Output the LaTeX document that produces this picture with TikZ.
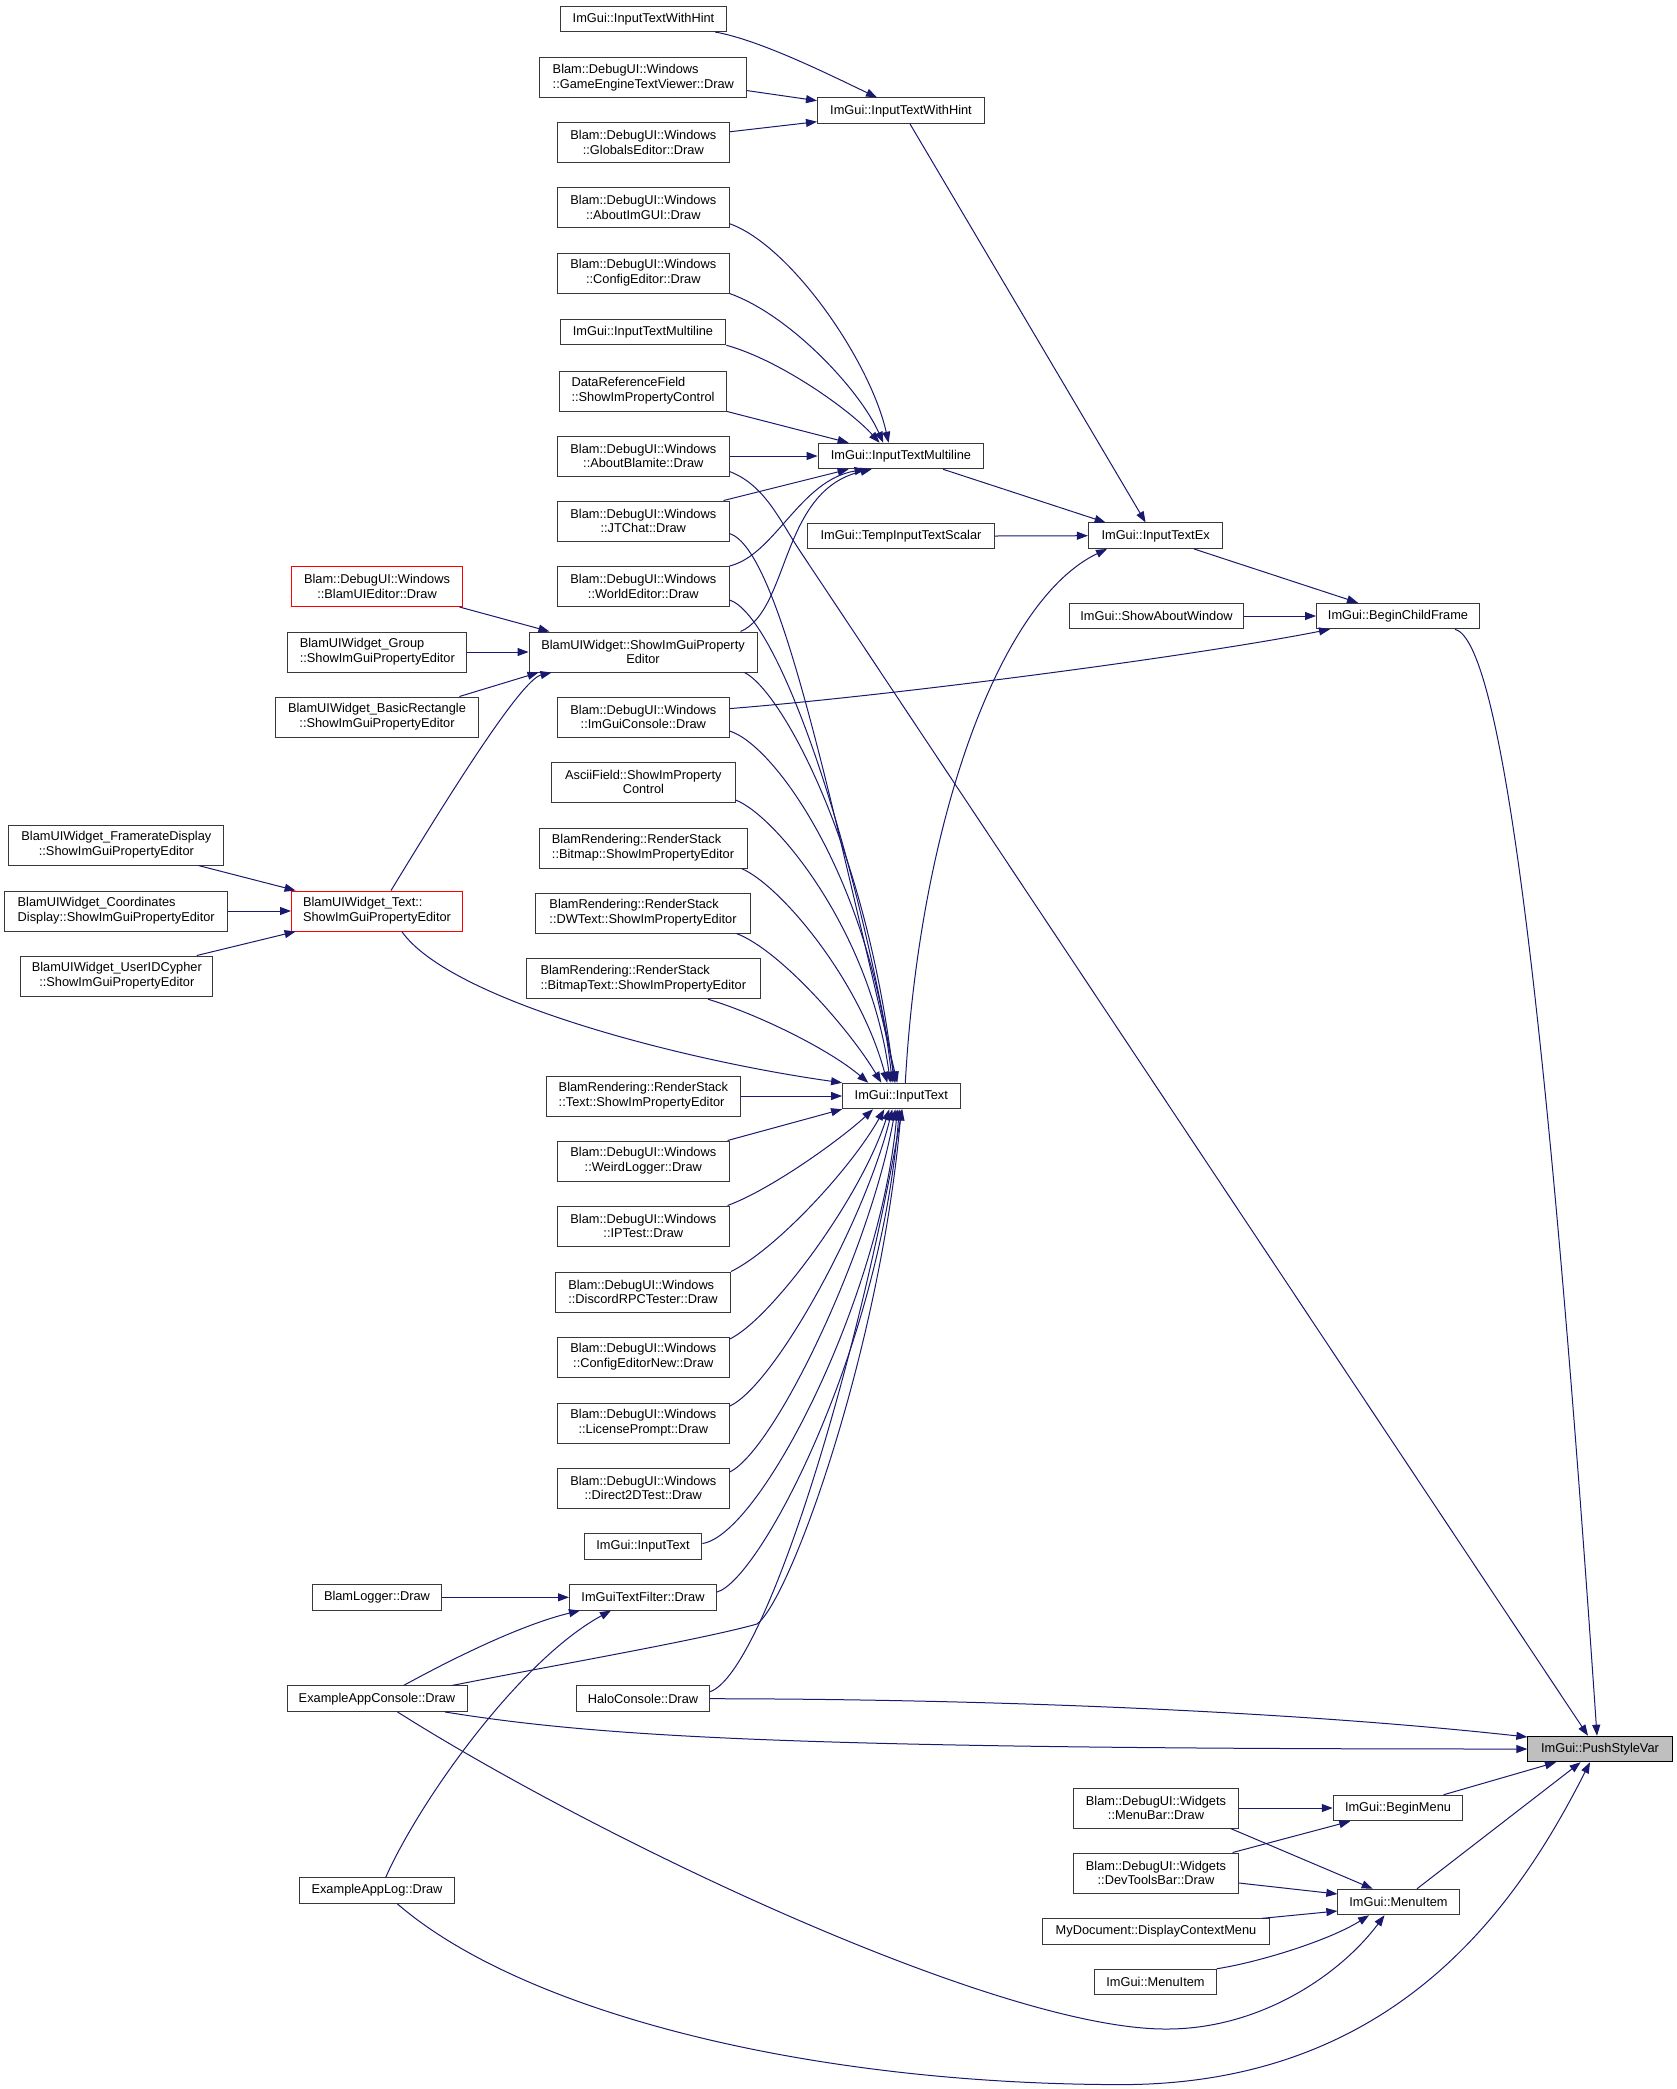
\documentclass[tikz,border=0pt]{standalone}
\usepackage{fontspec}
\setmainfont{Liberation Sans}
\usetikzlibrary{arrows.meta}
\definecolor{edgecol}{RGB}{25,25,112}
\definecolor{boxgray}{RGB}{191,191,191}
\newcommand\nfnt{\fontsize{12.8pt}{14.8pt}\selectfont}
\begin{document}
\begin{tikzpicture}[x=1pt,y=-1pt,
  box/.style={draw=black!78, line width=1pt, fill=white, inner sep=0pt, minimum height=25.5pt, font=\nfnt, text=black},
  boxtwo/.style={box, minimum height=40pt},
  redbox/.style={boxtwo, draw=red},
  edge/.style={draw=edgecol, line width=1pt, -{Triangle[length=11pt,width=8pt]}}]
\fill[white] (0,0) rectangle (1677,2089);
\useasboundingbox (0,0) rectangle (1677,2089);

% ---- nodes ----
\node[box, minimum width=166.5pt] (hintL) at (643.5,18.8) {ImGui::InputTextWithHint};
\node[boxtwo, minimum width=206.7pt, align=left] (gev) at (643.3,77.4) {Blam::DebugUI::Windows\\::GameEngineTextViewer::Draw};
\node[boxtwo, minimum width=171.5pt, align=center] (glob) at (643.3,142.6) {Blam::DebugUI::Windows\\::GlobalsEditor::Draw};
\node[box, minimum width=167pt] (hintR) at (901,110.7) {ImGui::InputTextWithHint};
\node[boxtwo, minimum width=171.5pt, align=center] (aboutimgui) at (643.3,207.7) {Blam::DebugUI::Windows\\::AboutImGUI::Draw};
\node[boxtwo, minimum width=171.5pt, align=center] (configed) at (643.3,273) {Blam::DebugUI::Windows\\::ConfigEditor::Draw};
\node[box, minimum width=165.7pt] (mlL) at (643,332) {ImGui::InputTextMultiline};
\node[boxtwo, minimum width=167.3pt, align=left] (dataref) at (643,391) {DataReferenceField\\::ShowImPropertyControl};
\node[boxtwo, minimum width=171.5pt, align=center] (aboutblam) at (643.3,456) {Blam::DebugUI::Windows\\::AboutBlamite::Draw};
\node[box, minimum width=165.8pt] (mlR) at (901,456) {ImGui::InputTextMultiline};
\node[boxtwo, minimum width=171.5pt, align=center] (jtchat) at (643.3,521) {Blam::DebugUI::Windows\\::JTChat::Draw};
\node[box, minimum width=186.7pt] (temp) at (901,536) {ImGui::TempInputTextScalar};
\node[box, minimum width=134.4pt] (itex) at (1155.6,535.7) {ImGui::InputTextEx};
\node[boxtwo, minimum width=171.5pt, align=center] (world) at (643.3,586.5) {Blam::DebugUI::Windows\\::WorldEditor::Draw};
\node[box, minimum width=174.5pt] (about) at (1156.5,616) {ImGui::ShowAboutWindow};
\node[box, minimum width=163pt] (bcf) at (1398,616) {ImGui::BeginChildFrame};
\node[boxtwo, minimum width=228pt, align=center] (bwsp) at (643,652) {BlamUIWidget::ShowImGuiProperty\\Editor};
\node[boxtwo, minimum width=171.5pt, align=center] (console) at (643.3,717) {Blam::DebugUI::Windows\\::ImGuiConsole::Draw};
\node[boxtwo, minimum width=183.3pt, align=center] (ascii) at (643.4,782) {AsciiField::ShowImProperty\\Control};
\node[boxtwo, minimum width=208pt, align=left] (bitmap) at (643,848) {BlamRendering::RenderStack\\::Bitmap::ShowImPropertyEditor};
\node[boxtwo, minimum width=215.5pt, align=left] (dwtext) at (643,913) {BlamRendering::RenderStack\\::DWText::ShowImPropertyEditor};
\node[boxtwo, minimum width=233.5pt, align=left] (bmtext) at (643.3,978.7) {BlamRendering::RenderStack\\::BitmapText::ShowImPropertyEditor};
\node[redbox, minimum width=171pt, align=center] (blamuied) at (377,586.5) {Blam::DebugUI::Windows\\::BlamUIEditor::Draw};
\node[boxtwo, minimum width=179pt, align=left] (group) at (377.3,652) {BlamUIWidget\_Group\\::ShowImGuiPropertyEditor};
\node[boxtwo, minimum width=203pt, align=center] (basicrect) at (377,717) {BlamUIWidget\_BasicRectangle\\::ShowImGuiPropertyEditor};
\node[boxtwo, minimum width=215pt, align=center] (framerate) at (116.4,845) {BlamUIWidget\_FramerateDisplay\\::ShowImGuiPropertyEditor};
\node[boxtwo, minimum width=223.2pt, align=left] (coords) at (116.2,911) {BlamUIWidget\_Coordinates\\Display::ShowImGuiPropertyEditor};
\node[redbox, minimum width=171pt, align=left] (wtext) at (377,911) {BlamUIWidget\_Text::\\ShowImGuiPropertyEditor};
\node[boxtwo, minimum width=192pt, align=center] (userid) at (116.8,976) {BlamUIWidget\_UserIDCypher\\::ShowImGuiPropertyEditor};
\node[box, minimum width=117.4pt] (it) at (901.3,1096) {ImGui::InputText};
\node[boxtwo, minimum width=194pt, align=left] (rstext) at (643.4,1096) {BlamRendering::RenderStack\\::Text::ShowImPropertyEditor};
\node[boxtwo, minimum width=171.5pt, align=center] (weird) at (643.3,1161) {Blam::DebugUI::Windows\\::WeirdLogger::Draw};
\node[boxtwo, minimum width=171.5pt, align=center] (iptest) at (643.3,1226) {Blam::DebugUI::Windows\\::IPTest::Draw};
\node[boxtwo, minimum width=175pt, align=left] (discord) at (643,1292) {Blam::DebugUI::Windows\\::DiscordRPCTester::Draw};
\node[boxtwo, minimum width=171.5pt, align=center] (cfgnew) at (643.3,1357) {Blam::DebugUI::Windows\\::ConfigEditorNew::Draw};
\node[boxtwo, minimum width=171.5pt, align=center] (license) at (643.3,1423) {Blam::DebugUI::Windows\\::LicensePrompt::Draw};
\node[boxtwo, minimum width=171.5pt, align=center] (d2d) at (643.3,1488) {Blam::DebugUI::Windows\\::Direct2DTest::Draw};
\node[box, minimum width=117.7pt] (itsmall) at (643,1546.5) {ImGui::InputText};
\node[box, minimum width=128.8pt] (logger) at (377,1597.3) {BlamLogger::Draw};
\node[box, minimum width=147pt] (filter) at (643,1597.3) {ImGuiTextFilter::Draw};
\node[box, minimum width=180pt] (appcon) at (377,1698.7) {ExampleAppConsole::Draw};
\node[box, minimum width=132.8pt] (halo) at (643,1698.7) {HaloConsole::Draw};
\node[box, minimum width=155.5pt] (applog) at (377,1890.6) {ExampleAppLog::Draw};
\node[box, minimum width=144.3pt, fill=boxgray, draw=black] (psv) at (1600,1749) {ImGui::PushStyleVar};
\node[box, minimum width=129.5pt] (beginmenu) at (1398,1808) {ImGui::BeginMenu};
\node[boxtwo, minimum width=165pt, align=center] (menubar) at (1156,1808) {Blam::DebugUI::Widgets\\::MenuBar::Draw};
\node[boxtwo, minimum width=165pt, align=center] (devtools) at (1156,1873) {Blam::DebugUI::Widgets\\::DevToolsBar::Draw};
\node[box, minimum width=121.3pt] (menuitem) at (1398.5,1902) {ImGui::MenuItem};
\node[box, minimum width=226.6pt] (mydoc) at (1156,1931.6) {MyDocument::DisplayContextMenu};
\node[box, minimum width=121.5pt] (menuitem2) at (1155.5,1982) {ImGui::MenuItem};

% ---- edges ----
\draw[edge] ([xshift=-12pt]hintL.south east) .. controls (760,40) and (830,75) .. ([xshift=60pt]hintR.north west);
\draw[edge] ([yshift=-13.2pt]gev.east) -- ([yshift=10pt]hintR.west);
\draw[edge] ([yshift=10.8pt]glob.east) -- ([yshift=-11pt]hintR.west);
\draw[edge] ([xshift=9pt]hintR.south) -- ([xshift=-10pt]itex.north);
\draw[edge] ([yshift=-16pt]aboutimgui.east) .. controls (790,245) and (870,360) .. ([xshift=71pt]mlR.north west);
\draw[edge] (configed.south east) .. controls (790,315) and (860,390) .. ([xshift=65.6pt]mlR.north west);
\draw[edge] (mlL.south east) .. controls (780,360) and (850,410) .. ([xshift=62pt]mlR.north west);
\draw[edge] (dataref.south east) -- ([xshift=31pt]mlR.north west);
\draw[edge] (aboutblam.east) -- (mlR.west);
\draw[edge] ([xshift=-6pt]jtchat.north east) -- ([xshift=31pt]mlR.south west);
\draw[edge] (world.north east) .. controls (775,555) and (800,480) .. ([xshift=48pt]mlR.south west);
\draw[edge] ([xshift=-17pt]bwsp.north east) .. controls (790,610) and (780,490) .. ([xshift=54pt]mlR.south west);
\draw[edge] ([xshift=42pt]mlR.south) -- ([xshift=-50pt]itex.north);
\draw[edge] (temp.east) -- (itex.west);
\draw[edge] ([xshift=4pt]it.north) .. controls (920,820) and (1000,600) .. ([xshift=-48.6pt]itex.south);
\draw[edge] ([xshift=38.4pt]itex.south) -- ([xshift=-40pt]bcf.north);
\draw[edge] (about.east) -- (bcf.west);
\draw[edge] ([yshift=8.4pt]console.east) .. controls (900,695) and (1200,655) .. ([xshift=14pt]bcf.south west);
\draw[edge] ([xshift=57pt]bcf.south) .. controls (1495,640) and (1540,900) .. ([xshift=-3pt]psv.north);
\draw[edge] ([yshift=-15.5pt]aboutblam.east) .. controls (765,485) and (780,521) .. (800,551) -- ([xshift=-12pt]psv.north);
\draw[edge] (halo.east) .. controls (1000,1699) and (1300,1712) .. ([yshift=12pt]psv.west);
\draw[edge] ([xshift=-22.5pt]appcon.south east) .. controls (600,1737) and (800,1749) .. (psv.west);
\draw[edge] ([xshift=20.5pt]appcon.south) .. controls (600,1840) and (1000,2030) .. (1167,2029) .. controls (1260,2029) and (1340,1975) .. ([xshift=-14pt]menuitem.south);
\draw[edge] ([xshift=20.4pt]applog.south) .. controls (520,2010) and (800,2084) .. (1120,2084.6) .. controls (1400,2085) and (1520,1900) .. ([xshift=-10pt]psv.south);
\draw[edge] ([xshift=45.6pt]beginmenu.north) -- ([xshift=-44pt]psv.south);
\draw[edge] ([xshift=18.5pt]menuitem.north) -- ([xshift=-19.4pt]psv.south);
\draw[edge] (menubar.east) -- (beginmenu.west);
\draw[edge] ([xshift=-6.4pt]devtools.north east) -- ([xshift=17.5pt]beginmenu.south west);
\draw[edge] ([xshift=-8.4pt]menubar.south east) -- ([xshift=35.3pt]menuitem.north west);
\draw[edge] ([yshift=-10pt]devtools.east) -- ([yshift=8pt]menuitem.west);
\draw[edge] ([xshift=-8pt]mydoc.north east) -- ([yshift=-9pt]menuitem.west);
\draw[edge] (menuitem2.north east) .. controls (1260,1962) and (1330,1940) .. ([xshift=-29.5pt]menuitem.south);
\draw[edge] ([xshift=-3.5pt]blamuied.south east) -- ([xshift=21pt]bwsp.north west);
\draw[edge] (group.east) -- (bwsp.west);
\draw[edge] ([xshift=-19.6pt]basicrect.north east) -- ([xshift=10pt]bwsp.south west);
\draw[edge] ([xshift=14pt]wtext.north) .. controls (440,810) and (520,680) .. ([xshift=23pt]bwsp.south west);
\draw[edge] ([xshift=-26pt]framerate.south east) -- ([xshift=4.6pt]wtext.north west);
\draw[edge] (coords.east) -- (wtext.west);
\draw[edge] ([xshift=-16.5pt]userid.north east) -- ([xshift=4.6pt]wtext.south west);
\draw[edge] ([xshift=24.8pt]wtext.south) .. controls (450,1000) and (680,1060) .. (it.north west);
\draw[edge] (rstext.east) -- (it.west);
\draw[edge] ([yshift=-12.5pt]jtchat.east) .. controls (780,550) and (830,800) .. ([xshift=-4pt]it.north);
\draw[edge] ([yshift=-13.5pt]world.east) .. controls (775,615) and (850,820) .. ([xshift=-6pt]it.north);
\draw[edge] ([xshift=-13pt]bwsp.south east) .. controls (780,690) and (865,840) .. ([xshift=-7pt]it.north);
\draw[edge] ([yshift=-14pt]console.east) .. controls (775,745) and (870,880) .. ([xshift=-9pt]it.north);
\draw[edge] ([yshift=2.5pt]ascii.south east) .. controls (775,815) and (870,930) .. ([xshift=-11pt]it.north);
\draw[edge] ([xshift=-6pt]bitmap.south east) .. controls (780,885) and (860,980) .. ([xshift=-14pt]it.north);
\draw[edge] ([xshift=-14.8pt]dwtext.south east) .. controls (780,950) and (850,1030) .. ([xshift=-20pt]it.north);
\draw[edge] ([xshift=-52.5pt]bmtext.south east) .. controls (760,1015) and (830,1050) .. ([xshift=-33pt]it.north);
\draw[edge] ([xshift=-2pt]weird.north east) -- (it.south west);
\draw[edge] ([xshift=-2pt]iptest.north east) .. controls (770,1190) and (840,1140) .. ([xshift=31pt]it.south west);
\draw[edge] (discord.north east) .. controls (775,1250) and (850,1170) .. ([xshift=-17pt]it.south);
\draw[edge] ([yshift=-2.6pt]cfgnew.north east) .. controls (770,1320) and (860,1200) .. ([xshift=-12pt]it.south);
\draw[edge] ([yshift=-3.7pt]license.north east) .. controls (775,1385) and (865,1220) .. ([xshift=-9pt]it.south);
\draw[edge] ([yshift=-4.6pt]d2d.north east) .. controls (775,1450) and (870,1250) .. ([xshift=-6pt]it.south);
\draw[edge] ([yshift=3pt]itsmall.east) .. controls (760,1535) and (880,1300) .. ([xshift=-4pt]it.south);
\draw[edge] ([yshift=5.3pt]filter.east) .. controls (760,1580) and (880,1350) .. ([xshift=-2pt]it.south);
\draw[edge] ([xshift=-15.4pt]appcon.north east) .. controls (550,1666) and (700,1640) .. (757,1624) .. controls (790,1600) and (880,1350) .. (it.south);
\draw[edge] ([yshift=7pt]halo.east) .. controls (760,1675) and (850,1400) .. ([xshift=1pt]it.south);
\draw[edge] (logger.east) -- (filter.west);
\draw[edge] ([xshift=26.6pt]appcon.north) .. controls (450,1660) and (520,1625) .. ([xshift=11pt]filter.south west);
\draw[edge] ([xshift=8.7pt]applog.north) .. controls (420,1800) and (520,1660) .. ([xshift=42pt]filter.south west);
\end{tikzpicture}
\end{document}
